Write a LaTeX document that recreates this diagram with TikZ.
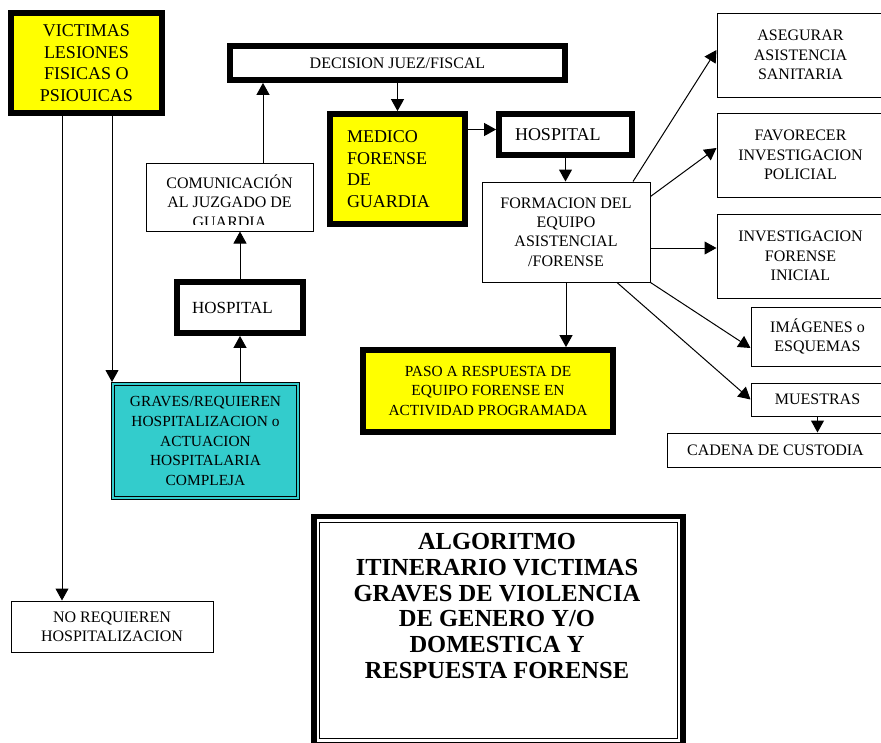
\documentclass[tikz,border=0pt]{standalone}
\usepackage{fontspec}
\setmainfont{Liberation Serif}
\usetikzlibrary{arrows.meta}

\definecolor{boxyellow}{RGB}{255,255,0}
\definecolor{boxcyan}{RGB}{51,204,204}
\newcommand{\boxfont}{\fontsize{16}{19.3}\selectfont}
\newcommand{\bigboxfont}{\fontsize{18}{21.5}\selectfont}
\newcommand{\smallboxfont}{\fontsize{15.4}{19.8}\selectfont}
\newcommand{\algtitlefont}{\fontsize{24.5}{25.7}\selectfont\bfseries}

\begin{document}
\begin{tikzpicture}[x=1pt,y=-1pt,
  >={Triangle[length=12pt,width=13pt]},
  plainbox/.style={draw,line width=1pt,align=center,inner sep=0pt,font=\boxfont},
  heavybox/.style={plainbox,line width=5.8pt},
  yellowbox/.style={heavybox,fill=boxyellow,font=\bigboxfont},
  link/.style={->,line width=1pt}]
  \useasboundingbox (0,0) rectangle (881,742);

  % left column
  \node (vict) [yellowbox,minimum width=151pt,minimum height=100pt] at (86.5,63)
    {VICTIMAS\\LESIONES\\FISICAS O\\PSIOUICAS};
  \node (noreq) [plainbox,minimum width=202pt,minimum height=51pt] at (112,626.5)
    {NO REQUIEREN\\HOSPITALIZACION};
  \node (graves) [plainbox,line width=0.8pt,double=boxcyan,double distance=2pt,fill=boxcyan,
    outer sep=1.8pt,font=\smallboxfont,minimum width=185.4pt,minimum height=114.4pt] at (205.5,441)
    {GRAVES/REQUIEREN\\HOSPITALIZACION o\\ACTUACION\\HOSPITALARIA\\COMPLEJA};
  \node (hosp1) [heavybox,font=\fontsize{17}{20}\selectfont,align=left,text width=96pt,
    minimum width=126pt,minimum height=51pt] at (240,307.5) {HOSPITAL};
  \node (comm) [plainbox,minimum width=167pt,minimum height=68pt] at (229.5,197) {};
  \begin{scope}
    \clip (comm.north west) rectangle ([yshift=7pt]comm.south east);
    \node (commtext) [align=center,inner sep=0pt,font=\boxfont] at ([yshift=-4pt]comm.center)
      {COMUNICACIÓN\\AL JUZGADO DE\\GUARDIA};
  \end{scope}

  % middle
  \node (dec) [heavybox,minimum width=335pt,minimum height=34pt] at (397.5,63) {DECISION JUEZ/FISCAL};
  \node (med) [yellowbox,align=left,text width=101pt,minimum width=135pt,minimum height=110pt]
    at (397.5,169) {MEDICO\\FORENSE\\DE\\GUARDIA};
  \node (hosp2) [heavybox,font=\bigboxfont,align=left,text width=101pt,
    minimum width=133pt,minimum height=41pt] at (565.5,134.5) {HOSPITAL};
  \node (form) [plainbox,minimum width=168pt,minimum height=100pt] at (566,232)
    {FORMACION DEL\\EQUIPO\\ASISTENCIAL\\/FORENSE};
  \node (paso) [yellowbox,font=\smallboxfont,minimum width=250pt,minimum height=82pt] at (488,391)
    {PASO A RESPUESTA DE\\EQUIPO FORENSE EN\\ACTIVIDAD PROGRAMADA};

  % right column
  \node (aseg) [plainbox,minimum width=167pt,minimum height=84pt] at (800.5,55)
    {ASEGURAR\\ASISTENCIA\\SANITARIA};
  \node (fav) [plainbox,minimum width=167pt,minimum height=84pt] at (800.5,155)
    {FAVORECER\\INVESTIGACION\\POLICIAL};
  \node (inv) [plainbox,minimum width=167pt,minimum height=84pt] at (800.5,256)
    {INVESTIGACION\\FORENSE\\INICIAL};
  \node (img) [plainbox,minimum width=133pt,minimum height=59pt] at (817.5,336.5)
    {IMÁGENES o\\ESQUEMAS};
  \node (mues) [plainbox,minimum width=133pt,minimum height=33pt] at (817.5,399.5) {MUESTRAS};
  \node (cad) [plainbox,minimum width=217pt,minimum height=34pt] at (775.5,450) {CADENA DE CUSTODIA};

  % title
  \node (title) [draw,line width=5.8pt,outer sep=0pt,inner sep=0pt,
    minimum width=369pt,minimum height=228pt] at (498.5,630.5) {};
  \draw [line width=1pt] ([xshift=5.8pt,yshift=-5.8pt]title.north west)
    rectangle ([xshift=-5.8pt,yshift=5.8pt]title.south east);
  \node (titletext) [align=center,inner sep=0pt,font=\algtitlefont] at (497,606)
    {ALGORITMO\\ITINERARIO VICTIMAS\\GRAVES DE VIOLENCIA\\DE GENERO Y/O\\DOMESTICA Y\\RESPUESTA FORENSE};

  \draw [link] ([xshift=-24.5pt]vict.south) -- ([xshift=-24.5pt]vict.south |- noreq.north);
  \draw [link] ([xshift=25.5pt]vict.south) -- ([xshift=25.5pt]vict.south |- graves.north);
  \draw [link] (hosp1.south |- graves.north) -- (hosp1.south);
  \draw [link] (hosp1.north) -- (hosp1.north |- comm.south);
  \draw [link] ([xshift=33.5pt]comm.north) -- ([xshift=33.5pt]comm.north |- dec.south);
  \draw [link] (dec.south) -- (med.north);
  \draw [link] ([yshift=5pt]hosp2.west -| med.east) -- ([yshift=5pt]hosp2.west);
  \draw [link] (hosp2.south) -- (hosp2.south |- form.north);
  \draw [link] (form.south) -- (form.south |- paso.north);
  \draw [link] ([xshift=67pt]form.north) -- ([yshift=5pt]aseg.west);
  \draw [link] ([yshift=-15pt]form.north east) -- ([yshift=7pt]fav.west);
  \draw [link] ([yshift=8pt]inv.west -| form.east) -- ([yshift=8pt]inv.west);
  \draw [link] (form.south east) -- ([yshift=-11.5pt]img.west);
  \draw [link] ([xshift=51pt]form.south) -- (mues.west);
  \draw [link] (mues.south) -- (mues.south |- cad.north);
\end{tikzpicture}
\end{document}
